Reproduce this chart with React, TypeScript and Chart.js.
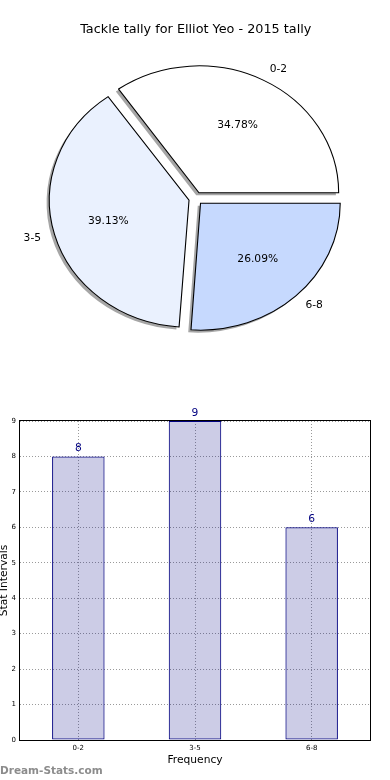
import React, { useEffect, useRef } from 'react';
import { Chart, registerables } from 'chart.js';

Chart.register(...registerables);

// ---- data ----
const categories = ['0-2', '3-5', '6-8'];
const tallies = [8, 9, 6];
const pieColors = ['#ffffff', '#eaf1fe', '#c6d9fe'];
const yTicks = [0, 1, 2, 3, 4, 5, 6, 7, 8, 9];
const chartTitle = 'Tackle tally for Elliot Yeo - 2015 tally';
const xAxisTitle = 'Frequency';
const yAxisTitle = 'Stat Intervals';
const watermark = 'Dream-Stats.com';

// ---- style ----
const FONT = "'DejaVu Sans', sans-serif";
const SX = 1.1; // horizontal stretch of the pie
const EXPLODE = 6.35; // px
const PIE_R = 127;

const pieEllipsePlugin = {
  id: 'pieEllipse',
  afterDatasetsUpdate(chart: any) {
    // undo Chart.js' radius growth on offset slices so all slices share one radius
    const meta = chart.getDatasetMeta(0);
    meta.data.forEach((arc: any) => {
      const circ = arc.endAngle - arc.startAngle;
      const fix = 1 - Math.sin(Math.min(Math.PI, circ || 0));
      arc.outerRadius = PIE_R - EXPLODE * fix;
    });
  },
  beforeDatasetsDraw(chart: any) {
    const meta = chart.getDatasetMeta(0);
    const arc0 = meta.data[0];
    const { x, y } = arc0;
    const ctx = chart.ctx;
    ctx.save();
    ctx.translate(x, y);
    ctx.scale(SX, 1);
    ctx.translate(-x, -y);
    // shadow pass (fill only)
    ctx.save();
    ctx.shadowColor = 'rgba(77,77,77,0.5)';
    ctx.shadowOffsetX = -2.75;
    ctx.shadowOffsetY = 2.5;
    ctx.shadowBlur = 0;
    meta.data.forEach((arc: any) => {
      const orig = arc.options;
      arc.options = { ...orig, borderWidth: 0 };
      arc.draw(ctx);
      arc.options = orig;
    });
    ctx.restore();
  },
  afterDatasetsDraw(chart: any) {
    const ctx = chart.ctx;
    ctx.restore();
    const meta = chart.getDatasetMeta(0);
    const data: number[] = chart.data.datasets[0].data;
    const labels: string[] = chart.data.labels;
    const total = data.reduce((a, b) => a + b, 0);
    ctx.save();
    ctx.fillStyle = '#000';
    ctx.font = `10.7px ${FONT}`;
    ctx.textBaseline = 'middle';
    meta.data.forEach((arc: any, i: number) => {
      const mid = (arc.startAngle + arc.endAngle) / 2;
      const c = Math.cos(mid);
      const s = Math.sin(mid);
      const cx = arc.x;
      const cy = arc.y;
      const rl = EXPLODE + 1.1 * PIE_R;
      const rp = EXPLODE + 0.6 * PIE_R;
      ctx.textAlign = c > 0 ? 'left' : 'right';
      ctx.fillText(labels[i], cx + SX * rl * c, cy + rl * s);
      ctx.textAlign = 'center';
      ctx.fillText(((data[i] / total) * 100).toFixed(2) + '%', cx + SX * rp * c, cy + rp * s);
    });
    ctx.restore();
  },
};

const framePlugin = {
  id: 'frame',
  afterDraw(chart: any) {
    const { ctx, chartArea: a } = chart;
    ctx.save();
    ctx.strokeStyle = '#000';
    ctx.lineWidth = 1;
    ctx.strokeRect(a.left - 0.5, a.top - 0.5, a.right - a.left + 1, a.bottom - a.top + 1);
    ctx.restore();
  },
};

const valueLabelPlugin = {
  id: 'valueLabels',
  afterDatasetsDraw(chart: any) {
    const ctx = chart.ctx;
    const meta = chart.getDatasetMeta(0);
    const data: number[] = chart.data.datasets[0].data;
    ctx.save();
    ctx.fillStyle = '#000080';
    ctx.font = `10.7px ${FONT}`;
    ctx.textAlign = 'center';
    ctx.textBaseline = 'alphabetic';
    meta.data.forEach((bar: any, i: number) => {
      ctx.fillText(String(data[i]), bar.x, bar.y - 5);
    });
    ctx.restore();
  },
};

export default function App() {
  const pieRef = useRef<HTMLCanvasElement>(null);
  const barRef = useRef<HTMLCanvasElement>(null);

  useEffect(() => {
    const pie = new Chart(pieRef.current as HTMLCanvasElement, {
      type: 'pie',
      data: {
        labels: [...categories].reverse(),
        datasets: [
          {
            data: [...tallies].reverse(),
            backgroundColor: [...pieColors].reverse(),
            borderColor: '#000',
            borderWidth: 1,
            borderJoinStyle: 'miter',
            offset: EXPLODE * 4,
            hoverOffset: 0,
          } as any,
        ],
      },
      options: {
        animation: false,
        responsive: false,
        events: [],
        rotation: 90,
        radius: PIE_R,
        layout: { padding: { left: 1.5, right: 0, top: 0, bottom: 50.36 } },
        plugins: {
          legend: { display: false },
          tooltip: { enabled: false },
          title: {
            display: true,
            text: chartTitle,
            color: '#000',
            font: { family: FONT, size: 12.8, weight: 'normal' },
            padding: { top: 22, bottom: 10 },
          },
        },
      } as any,
      plugins: [pieEllipsePlugin],
    });

    const gridStyle = { offset: false, color: '#9a9a9a', lineWidth: 1, drawTicks: false };
    const borderStyle = { display: false, dash: [1, 2] };

    const bar = new Chart(barRef.current as HTMLCanvasElement, {
      type: 'bar',
      data: {
        labels: categories,
        datasets: [
          {
            data: tallies,
            backgroundColor: 'rgba(0,0,128,0.2)',
            borderColor: '#000080',
            borderWidth: 1,
            borderSkipped: false,
            barPercentage: 0.45,
            categoryPercentage: 1,
          } as any,
        ],
      },
      options: {
        animation: false,
        responsive: false,
        events: [],
        layout: { padding: { left: 0, right: 20, top: 21, bottom: 0 } },
        plugins: { legend: { display: false }, tooltip: { enabled: false } },
        scales: {
          x: {
            grid: gridStyle,
            border: borderStyle,
            ticks: { color: '#000', font: { family: FONT, size: 7 }, padding: 4 },
            title: {
              display: true,
              text: xAxisTitle,
              color: '#000',
              font: { family: FONT, size: 10.7 },
              padding: { top: 0, bottom: 13.7 },
            },
            afterFit: (s: any) => {
              s.height = 40;
            },
          },
          y: {
            min: yTicks[0],
            max: yTicks[yTicks.length - 1],
            grid: { ...gridStyle },
            border: borderStyle,
            ticks: { color: '#000', font: { family: FONT, size: 7 }, padding: 4 },
            afterBuildTicks: (s: any) => {
              s.ticks = yTicks.map((v) => ({ value: v }));
            },
            title: {
              display: true,
              text: yAxisTitle,
              color: '#000',
              font: { family: FONT, size: 10.7 },
              padding: { top: -2.5, bottom: 0 },
            },
            afterFit: (s: any) => {
              s.width = 20;
            },
          },
        },
      } as any,
      plugins: [framePlugin, valueLabelPlugin],
    });

    return () => {
      pie.destroy();
      bar.destroy();
    };
  }, []);

  return (
    <div
      style={{
        position: 'absolute',
        left: 0,
        top: 0,
        width: 390,
        height: 780,
        background: '#fff',
        overflow: 'hidden',
      }}
    >
      <canvas ref={pieRef} width={390} height={400} style={{ position: 'absolute', left: 0, top: 0 }} />
      <canvas ref={barRef} width={390} height={380} style={{ position: 'absolute', left: 0, top: 400 }} />
      <div
        style={{
          position: 'absolute',
          left: 0,
          top: 763,
          fontFamily: FONT,
          fontWeight: 'bold',
          fontSize: '10.5px',
          lineHeight: '14px',
          color: '#8c8c8c',
          whiteSpace: 'nowrap',
        }}
      >
        {watermark}
      </div>
    </div>
  );
}
